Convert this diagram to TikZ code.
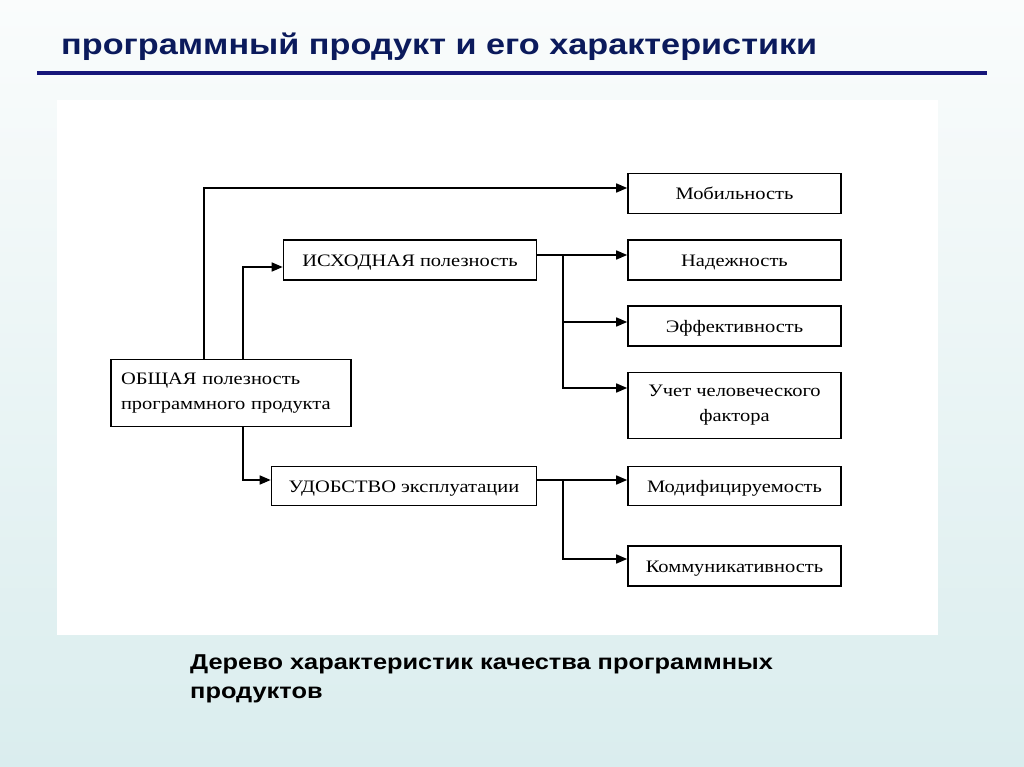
\documentclass[tikz,border=0pt]{standalone}
\usepackage{fontspec}
\setmainfont[FakeStretch=1.17]{Liberation Serif}
\newfontfamily\hdfont[FakeStretch=1.18]{Liberation Sans}
\usetikzlibrary{arrows.meta}
\definecolor{titlecol}{HTML}{0B1A5C}
\definecolor{rulecol}{HTML}{16167A}
\definecolor{bgtop}{HTML}{FAFCFC}
\definecolor{bgbot}{HTML}{DAEDEE}
\tikzset{
  box/.style={draw=black, line width=1.6pt, fill=white, minimum width=213pt, minimum height=40pt, inner sep=2pt, font=\fontsize{17.5}{25}\selectfont},
  onebox/.style={box, text height=12pt, text depth=0pt},
  arr/.style={line width=1.5pt, -{Triangle[length=11pt,width=9pt]}},
}
\begin{document}
\begin{tikzpicture}[x=1pt,y=-1pt]
\useasboundingbox (0,0) rectangle (1024,767);
\shade[top color=bgtop, bottom color=bgbot] (0,0) rectangle (1024,767);
\fill[white] (57,100) rectangle (938,635);
% title
\node[anchor=base west, inner sep=0pt, text=titlecol, font=\hdfont\bfseries\fontsize{29}{34}\selectfont] (title) at (61,55) {программный продукт и его характеристики};
\draw[rulecol, line width=3.5pt] (37,73) -- (987,73);
% boxes
\node[onebox] (mob) at (734.5,193.5) {Мобильность};
\node[onebox, minimum width=253pt] (isx) at (410,260) {ИСХОДНАЯ полезность};
\node[onebox] (nad) at (734.5,260) {Надежность};
\node[onebox] (eff) at (734.5,326) {Эффективность};
\node[box, minimum height=66pt, align=center] (uch) at (734.5,405.5) {Учет человеческого\\фактора};
\node[box, minimum width=240pt, minimum height=67pt, text width=220pt, align=left] (obsh) at (231,393) {ОБЩАЯ полезность\\программного продукта};
\node[onebox, minimum width=265pt, minimum height=39pt] (udo) at (404,486) {УДОБСТВО эксплуатации};
\node[onebox, minimum height=39pt] (mod) at (734.5,486) {Модифицируемость};
\node[onebox] (kom) at (734.5,566) {Коммуникативность};
% connectors
\draw[arr] ([xshift=94pt]obsh.north west) |- ([yshift=5.5pt]mob.west);
\draw[arr] ([xshift=133pt]obsh.north west) |- ([yshift=-7pt]isx.west);
\draw[arr] ([xshift=133pt]obsh.south west) |- ([yshift=6pt]udo.west);
\coordinate (b1) at (563,255);
\draw[arr] ([yshift=5pt]isx.east) -- ([yshift=5pt]nad.west);
\draw[arr] (b1) |- ([yshift=4pt]eff.west);
\draw[arr] (b1) |- ([yshift=17.5pt]uch.west);
\coordinate (b2) at (563,480);
\draw[arr] ([yshift=6pt]udo.east) -- ([yshift=6pt]mod.west);
\draw[arr] (b2) |- ([yshift=7pt]kom.west);
% caption
\node[anchor=base west, inner sep=0pt, align=left, font=\hdfont\bfseries\fontsize{21.5}{29}\selectfont] (cap) at (190,698) {Дерево характеристик качества программных\\продуктов};
\end{tikzpicture}
\end{document}
